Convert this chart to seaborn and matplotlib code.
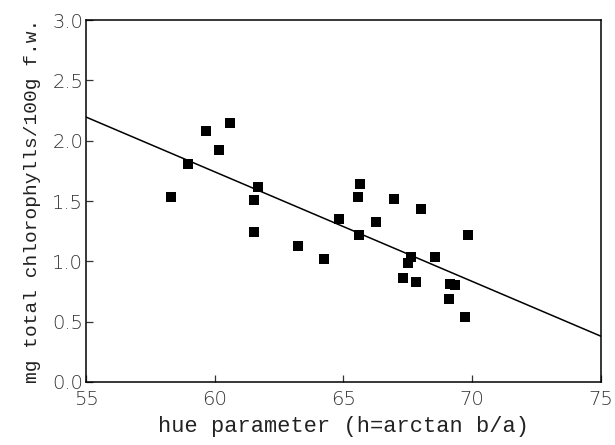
import numpy as np
import pandas as pd
import matplotlib
matplotlib.use("Agg")
import matplotlib.pyplot as plt
import seaborn as sns

# hue angle vs total chlorophyll
hue = [58.31, 58.96, 59.67, 60.15, 60.58, 61.54, 61.51, 61.67, 63.25, 64.23,
       64.84, 65.57, 65.66, 65.60, 66.28, 66.96, 67.30, 67.52, 67.61, 67.81,
       68.00, 68.57, 69.10, 69.16, 69.33, 69.71, 69.85]
chl = [1.535, 1.81, 2.08, 1.92, 2.15, 1.51, 1.245, 1.62, 1.13, 1.02,
       1.35, 1.53, 1.64, 1.22, 1.33, 1.52, 0.86, 0.99, 1.04, 0.83,
       1.43, 1.04, 0.685, 0.81, 0.80, 0.536, 1.22]

# fitted line as drawn
fit_x = [55, 75]
fit_y = [2.196, 0.38]

xticks = [55, 60, 65, 70, 75]
yticks = [0.0, 0.5, 1.0, 1.5, 2.0, 2.5, 3.0]

df = pd.DataFrame({"hue": hue, "chl": chl})
fit = pd.DataFrame({"x": fit_x, "y": fit_y})

sns.set_style("ticks")
plt.rcParams["font.family"] = ["DejaVu Sans"]

fig = plt.figure(figsize=(6.15, 4.45), dpi=100)
ax = fig.add_axes([0.1398, 0.1416, 0.8370, 0.8134])

sns.lineplot(data=fit, x="x", y="y", color="black", linewidth=1.1, ax=ax)
sns.scatterplot(data=df, x="hue", y="chl", marker="s", s=44, color="black",
                edgecolor="black", linewidth=0, ax=ax)

ax.set_xlim(55, 75)
ax.set_ylim(0, 3.0)
ax.set_xticks(xticks)
ax.set_yticks(yticks)
ax.set_xticklabels([str(t) for t in xticks])
ax.set_yticklabels([f"{t:.1f}" for t in yticks])
for s in ax.spines.values():
    s.set_visible(True)
    s.set_linewidth(1.1)
    s.set_color("black")
ax.tick_params(direction="in", length=5, width=0.9, labelsize=14, colors="#333333")
ax.tick_params(axis="x", pad=6)
ax.tick_params(axis="y", pad=2)
for lab in ax.get_xticklabels() + ax.get_yticklabels():
    lab.set_fontweight("light")

ax.set_xlabel("hue parameter (h=arctan b/a)", family="Liberation Mono",
              fontsize=15.8, color="#222222", labelpad=5)
ax.set_ylabel("mg total chlorophylls/100g f.w.", family="Liberation Mono",
              fontsize=14, color="#222222", labelpad=8)

fig.savefig("out.png", dpi=100)
